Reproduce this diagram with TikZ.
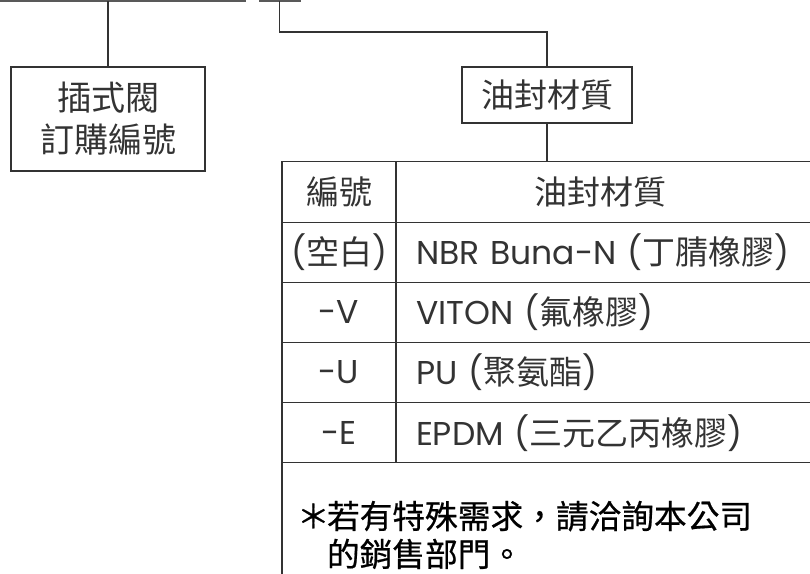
\documentclass[tikz,border=0pt]{standalone}
\usepackage{fontspec}
\setmainfont{Poppins}
\newfontfamily\cjk{Noto Sans CJK TC}
\newfontfamily\cjknote{Noto Sans CJK TC}[FakeBold=0.6]
\usetikzlibrary{
  positioning, % for right=of, below=of
  calc}
\newcommand\zh[1]{{\cjk #1}}
\newcommand\notemark{\makebox[30pt][l]{＊}}
\tikzstyle{bus} = [draw=black!65, line width=2.4pt]
\tikzstyle{wire} = [draw=black!80, line width=1.1pt]
\tikzstyle{box} = [wire, text=black!80, outer sep=0pt, inner sep=0pt, font=\fontsize{33}{42}\selectfont]
\tikzstyle{codecell} = [box, minimum width=114pt, minimum height=60.2pt]
\tikzstyle{matcell} = [box, minimum width=434pt, minimum height=60.2pt, inner xsep=20pt, text width=394pt, align=left]
\tikzstyle{notecell} = [box, text=black, minimum width=548pt, minimum height=144pt, inner xsep=15pt, text width=518pt, align=left, font=\cjknote\fontsize{32.7}{38}\selectfont]

\begin{document}
\begin{tikzpicture}[x=1pt, y=-1pt]
\useasboundingbox (0,0) rectangle (810,573);

\coordinate (busa) at (0,1.2);
\coordinate (busb) at (246,1.2);
\coordinate (busc) at (259,1.2);
\coordinate (busd) at (301,1.2);
\coordinate (tap) at (279.5,1.2);
\coordinate (bend) at (279.5,32);
\draw[bus] (busa) -- (busb);
\draw[bus] (busc) -- (busd);

\node[box, minimum width=194pt, minimum height=104pt, align=center, font=\cjk\fontsize{34}{42}\selectfont] (valve) at (108,119) {插式閥\\訂購編號};
\node[box, minimum width=170pt, minimum height=56pt, font=\cjk\fontsize{33}{42}\selectfont] (seal) at (547,95) {油封材質};

\draw[wire] (valve.north) -- (valve.north |- busa);
\draw[wire] (tap) -- (bend) -| (seal.north);

% table
\node[codecell] (hC) at (339,192) {\zh{編號}};
\node[matcell, right=0pt of hC] (hM) {\makebox[368pt]{\zh{油封材質}}};
\node[codecell, below=0pt of hC] (nC) {(\zh{空白})};
\node[matcell, right=0pt of nC] (nM) {NBR Buna-N (\zh{丁腈橡膠})};
\node[codecell, below=0pt of nC] (vC) {-V};
\node[matcell, right=0pt of vC] (vM) {VITON (\zh{氟橡膠})};
\node[codecell, below=0pt of vC] (uC) {-U};
\node[matcell, right=0pt of uC] (uM) {PU (\zh{聚氨酯})};
\node[codecell, below=0pt of uC] (eC) {-E};
\node[matcell, right=0pt of eC] (eM) {EPDM (\zh{三元乙丙橡膠})};
\node[notecell, anchor=north west] (note) at (eC.south west) {\notemark 若有特殊需求，請洽詢本公司\\\hspace*{30pt}的銷售部門。};

\draw[wire] (seal.south) -- (seal.south |- hM.north);

\end{tikzpicture}
\end{document}
